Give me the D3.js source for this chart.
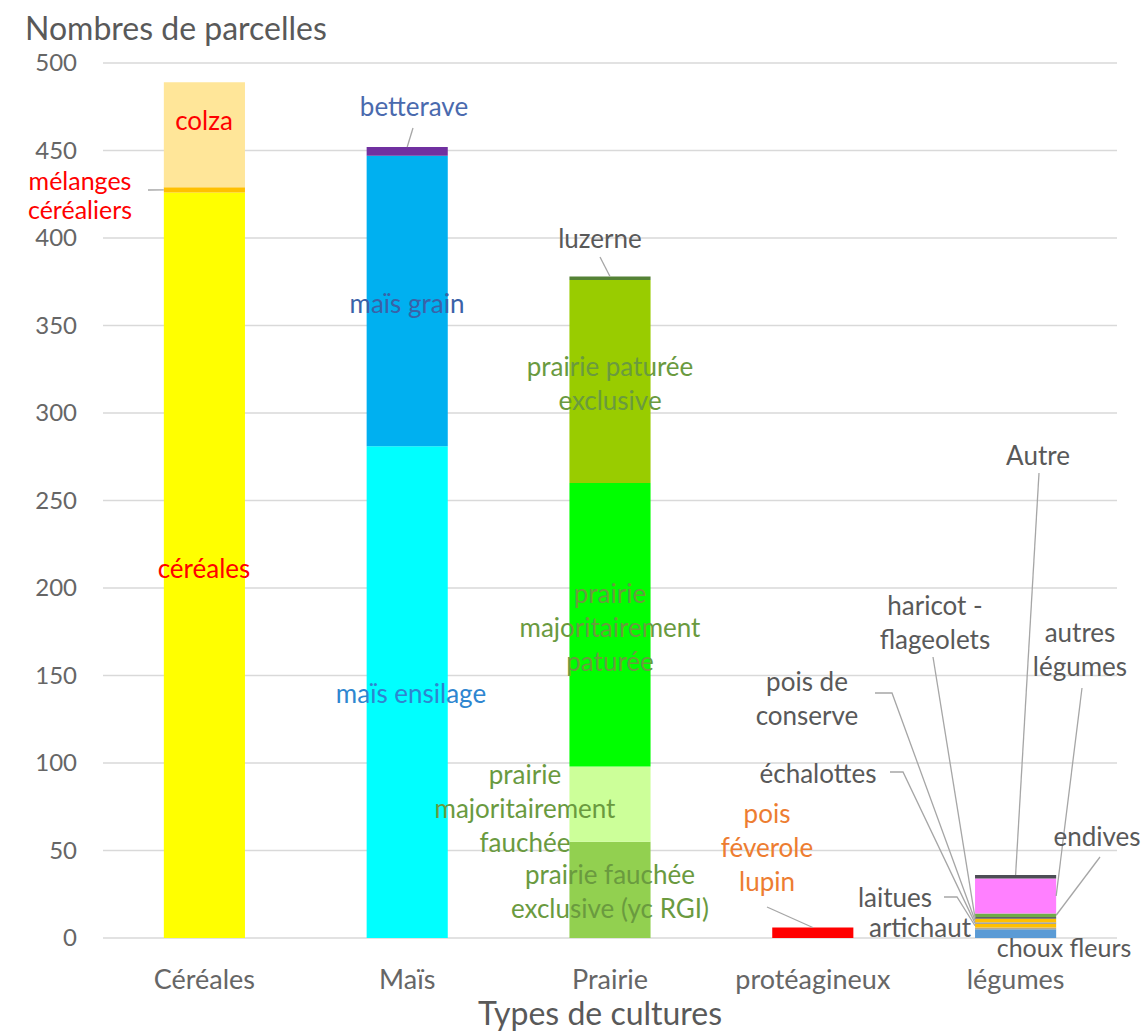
<!DOCTYPE html>
<html><head><meta charset="utf-8">
<script src="https://cdn.jsdelivr.net/npm/d3@7"></script>
<style>html,body{margin:0;padding:0;background:#fff}svg{display:block;font-family:Lato,"Open Sans",sans-serif}</style>
</head><body>
<svg id="chart" width="1146" height="1033"></svg>
<script>
// ---------- DATA ----------
const categories = ["Céréales", "Maïs", "Prairie", "protéagineux", "légumes"];
const yTicks = [0, 50, 100, 150, 200, 250, 300, 350, 400, 450, 500];

const cerealesSeries = ["céréales", "mélanges céréaliers", "colza"];
const cerealesValues = [426, 3, 60];

const maisSeries = ["maïs ensilage", "maïs grain", "betterave"];
const maisValues = [281, 166, 5];

const prairieSeries = ["prairie fauchée exclusive (yc RGI)", "prairie majoritairement fauchée",
  "prairie majoritairement paturée", "prairie paturée exclusive", "luzerne"];
const prairieValues = [55, 43, 162, 116, 2];

const proteagSeries = ["pois féverole lupin"];
const proteagValues = [6];

const legumesSeries = ["choux fleurs", "artichaut", "laitues", "échalottes", "pois de conserve",
  "haricot - flageolets", "endives", "autres légumes", "Autre"];
const legumesValues = [5, 1, 2, 1, 2, 1, 2, 20, 2];

// ---------- STYLES ----------
const cerealesColors = ["#FFFF00", "#FFC000", "#FFE699"];
const maisColors = ["#00FFFF", "#00B0F0", "#7030A0"];
const prairieColors = ["#92D050", "#CCFF99", "#00FF00", "#99CC00", "#548235"];
const proteagColors = ["#FF0000"];
const legumesColors = ["#5B9BD5", "#B8A88A", "#FFC000", "#A5A5A5", "#FFC000", "#636363", "#70AD47", "#FF80FF", "#4D4D55"];

const groups = [
  {cat: categories[0], names: cerealesSeries, values: cerealesValues, colors: cerealesColors},
  {cat: categories[1], names: maisSeries, values: maisValues, colors: maisColors},
  {cat: categories[2], names: prairieSeries, values: prairieValues, colors: prairieColors},
  {cat: categories[3], names: proteagSeries, values: proteagValues, colors: proteagColors},
  {cat: categories[4], names: legumesSeries, values: legumesValues, colors: legumesColors}
];

// ---------- LAYOUT ----------
const svg = d3.select("#chart");
const x = d3.scaleBand().domain(categories).range([103, 1117]).paddingInner(0.6).paddingOuter(0.3);
const y = d3.scaleLinear().domain([0, 500]).range([938, 63]);

const segs = [];
groups.forEach(g => {
  let acc = 0;
  g.names.forEach((n, i) => {
    segs.push({cat: g.cat, name: n, y0: acc, y1: acc + g.values[i], color: g.colors[i]});
    acc += g.values[i];
  });
});
const segByName = {};
segs.forEach(s => segByName[s.name] = s);

// gridlines
svg.append("g").selectAll("line").data(yTicks).join("line")
  .attr("x1", 103).attr("x2", 1117)
  .attr("y1", d => y(d)).attr("y2", d => y(d))
  .attr("stroke", "#D9D9D9").attr("stroke-width", 1.3);

// y axis labels
const yAxis = d3.axisLeft(y).tickValues(yTicks).tickSize(0).tickPadding(0);
const gy = svg.append("g").attr("transform", "translate(77,0)").call(yAxis);
gy.select(".domain").remove();
gy.selectAll("text").attr("font-size", 24).attr("fill", "#666").attr("font-family", "Lato");

// bars
svg.append("g").selectAll("rect").data(segs).join("rect")
  .attr("x", d => x(d.cat)).attr("width", x.bandwidth())
  .attr("y", d => y(d.y1)).attr("height", d => y(d.y0) - y(d.y1))
  .attr("fill", d => d.color);

// x axis labels
const xAxis = d3.axisBottom(x).tickSize(0).tickPadding(0);
const gx = svg.append("g").attr("transform", "translate(0,978)").call(xAxis);
gx.select(".domain").remove();
gx.selectAll("text").attr("font-size", 27).attr("fill", "#666").attr("font-family", "Lato")
  .attr("dy", null).attr("dominant-baseline", "central");

// titles
svg.append("text").attr("x", 25).attr("y", 40).attr("font-size", 32).attr("fill", "#595959")
  .text("Nombres de parcelles");
svg.append("text").attr("x", 600).attr("y", 1012).attr("text-anchor", "middle")
  .attr("dominant-baseline", "central").attr("font-size", 32).attr("fill", "#595959")
  .text("Types de cultures");

// ---------- ANNOTATIONS ----------
const RED = "#FF0000", ORANGE = "#ED7D31", GREEN = "#6A9A3F", GREY = "#595959";
const annots = [
  {s: "colza", lines: ["colza"], cx: 204, cy: 120, c: RED},
  {s: "mélanges céréaliers", lines: ["mélanges", "céréaliers"], cx: 80, cy: 180, lh: 29, fs: 25, c: RED, lead: [[148, 190]], end: "left"},
  {s: "céréales", lines: ["céréales"], cx: 204, cy: 568, c: RED},
  {s: "betterave", lines: ["betterave"], cx: 414, cy: 106, c: "#4A6AAE", lead: [[413, 128]], end: "top"},
  {s: "maïs grain", lines: ["maïs grain"], cx: 407, cy: 303, c: "#3A62A8"},
  {s: "maïs ensilage", lines: ["maïs ensilage"], cx: 411, cy: 693, c: "#2E86D0"},
  {s: "luzerne", lines: ["luzerne"], cx: 600, cy: 238, c: GREY, lead: [[600, 257]], end: "top"},
  {s: "prairie paturée exclusive", lines: ["prairie paturée", "exclusive"], cx: 610, cy: 366, c: GREEN},
  {s: "prairie majoritairement paturée", lines: ["prairie", "majoritairement", "paturée"], cx: 610, cy: 593, c: GREEN},
  {s: "prairie majoritairement fauchée", lines: ["prairie", "majoritairement", "fauchée"], cx: 525, cy: 774, c: GREEN},
  {s: "prairie fauchée exclusive (yc RGI)", lines: ["prairie fauchée", "exclusive (yc RGI)"], cx: 610, cy: 874, c: GREEN},
  {s: "pois féverole lupin", lines: ["pois", "féverole", "lupin"], cx: 767, cy: 813, c: ORANGE, lead: [[767, 907]], end: "top"},
  {s: "Autre", lines: ["Autre"], cx: 1038, cy: 455, c: GREY, lead: [[1039, 473]], end: "top"},
  {s: "haricot - flageolets", lines: ["haricot -", "flageolets"], cx: 935, cy: 605, c: GREY, lead: [[933, 657]], end: "left"},
  {s: "autres légumes", lines: ["autres", "légumes"], cx: 1080, cy: 632, c: GREY, lead: [[1082, 688]], end: "right"},
  {s: "pois de conserve", lines: ["pois de", "conserve"], cx: 807, cy: 681, c: GREY, lead: [[875, 693], [892, 693]], end: "left"},
  {s: "échalottes", lines: ["échalottes"], cx: 818, cy: 773, c: GREY, lead: [[890, 772], [903, 772]], end: "left"},
  {s: "endives", lines: ["endives"], cx: 1097, cy: 836, c: GREY, lead: [[1100, 857]], end: "right"},
  {s: "laitues", lines: ["laitues"], cx: 895, cy: 897, c: GREY, lead: [[944, 897], [957, 897]], end: "left"},
  {s: "artichaut", lines: ["artichaut"], cx: 920, cy: 927, c: GREY},
  {s: "choux fleurs", lines: ["choux fleurs"], cx: 1064, cy: 947, fs: 25, c: GREY}
];
const LINE_H = 34;

const leadG = svg.append("g");
const textG = svg.append("g");
annots.forEach(a => {
  if (a.lead) {
    const sg = segByName[a.s];
    let e;
    if (a.end === "top") e = [x(sg.cat) + x.bandwidth() / 2, y(sg.y1)];
    else if (a.end === "left") e = [x(sg.cat), y((sg.y0 + sg.y1) / 2)];
    else e = [x(sg.cat) + x.bandwidth(), y((sg.y0 + sg.y1) / 2)];
    const pts = a.lead.concat([e]);
    leadG.append("path").attr("d", d3.line()(pts)).attr("fill", "none")
      .attr("stroke", "#A6A6A6").attr("stroke-width", 1.3);
  }
  const t = textG.append("text").attr("text-anchor", "middle").attr("font-size", a.fs || 26).attr("fill", a.c);
  a.lines.forEach((l, i) => {
    t.append("tspan").attr("x", a.cx).attr("y", a.cy + i * (a.lh || LINE_H)).attr("dominant-baseline", "central").text(l);
  });
});
</script>
</body></html>
